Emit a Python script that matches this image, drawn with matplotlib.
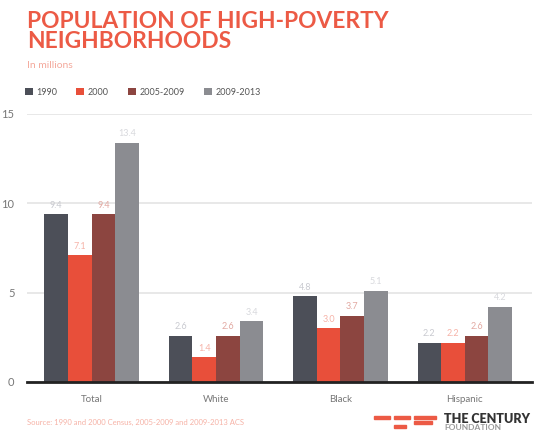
import numpy as np
import matplotlib
matplotlib.use("Agg")
import matplotlib.pyplot as plt
from matplotlib.patches import Rectangle

# ======= Data =======
categories = ["Total", "White", "Black", "Hispanic"]
periods = ["1990", "2000", "2005-2009", "2009-2013"]
v1990 = [9.4, 2.6, 4.8, 2.2]
v2000 = [7.1, 1.4, 3.0, 2.2]
v2005 = [9.4, 2.6, 3.7, 2.6]
v2009 = [13.4, 3.4, 5.1, 4.2]
series = [v1990, v2000, v2005, v2009]

colors = ["#4c4f58", "#e84f3a", "#8c4540", "#8b8c91"]
label_colors = ["#c9cad0", "#f6b3a8", "#e2a9a2", "#d8d9dd"]
RED = "#ec5a45"
plt.rcParams["font.family"] = ["Lato", "DejaVu Sans"]

fig = plt.figure(figsize=(5.36, 4.32), dpi=100)
W, H = 536, 432

def fx(px):
    return px / W

def fy(py):
    return 1 - py / H

# axes from x=27..532, y: 0 at 382, 15 at ~114
ax = fig.add_axes([fx(27), fy(382), fx(532) - fx(27), fy(114) - fy(382)])

x = np.arange(len(categories))
bw = 0.19
for i, (vals, c, lc) in enumerate(zip(series, colors, label_colors)):
    pos = x + (i - 1.5) * bw
    ax.bar(pos, vals, width=bw, color=c, zorder=3, label=periods[i])
    for p, v in zip(pos, vals):
        ax.text(p, v + 0.25, f"{v:.1f}", ha="center", va="bottom",
                fontsize=6.5, color=lc, zorder=4)

ax.set_ylim(0, 15)
ax.set_xlim(-0.52, 3.54)
ax.set_yticks([0, 5, 10, 15])
ax.yaxis.grid(True, color="#e4e4e4", linewidth=1.2, zorder=0)
ax.set_xticks(x)
ax.set_xticklabels(categories, fontsize=7, color="#666666")
ax.tick_params(axis="both", length=0, labelsize=8, colors="#777777")
ax.tick_params(axis="x", pad=9, labelsize=7)
ax.tick_params(axis="y", pad=9)
for s in ["top", "right", "left"]:
    ax.spines[s].set_visible(False)
ax.spines["bottom"].set_color("#222222")
ax.spines["bottom"].set_linewidth(2)
ax.spines["bottom"].set_zorder(5)

# title block
fig.text(fx(27), fy(11), "POPULATION OF HIGH-POVERTY\nNEIGHBORHOODS",
         ha="left", va="top", fontsize=16.4, fontweight="bold",
         color=RED, linespacing=0.92)
fig.text(fx(27), fy(66), "In millions", ha="left", va="center",
         fontsize=7.5, color="#f4a99c")

# legend
leg = fig.legend(loc="upper left", bbox_to_anchor=(fx(21), fy(84)), ncol=4,
                 frameon=False, fontsize=6.5, handlelength=0.9, handleheight=0.9,
                 handletextpad=0.4, columnspacing=2.1, borderaxespad=0)
for t in leg.get_texts():
    t.set_color("#555555")

# source
fig.text(fx(27), fy(422), "Source: 1990 and 2000 Census, 2005-2009 and 2009-2013 ACS",
         ha="left", va="center", fontsize=5.5, color="#f6b2a6")

# logo
for (x0, y0, w) in [(374, 416, 16), (394, 416, 16), (414, 416, 22),
                    (414, 421, 18), (394, 425, 12)]:
    fig.patches.append(Rectangle((fx(x0), fy(y0 + 2.5)), w / W, 2.5 / H,
                                 transform=fig.transFigure, color=RED))
fig.text(fx(444), fy(419), "THE CENTURY", ha="left", va="center",
         fontsize=9, fontweight="heavy", color="#333333")
fig.text(fx(444), fy(427.5), "FOUNDATION", ha="left", va="center",
         fontsize=6, fontweight="bold", color="#999999")

fig.savefig("out.png", dpi=100, facecolor="white")
